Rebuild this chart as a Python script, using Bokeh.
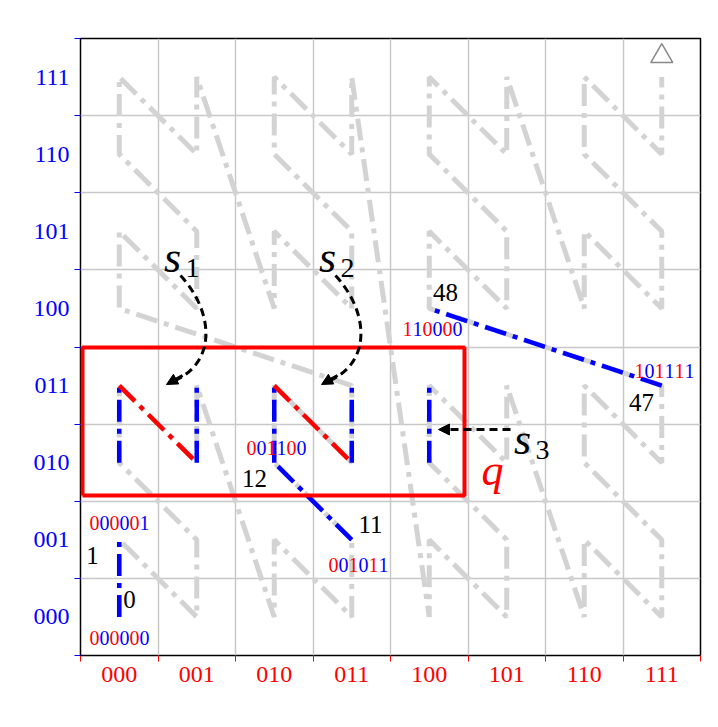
import math
from bokeh.plotting import figure
from bokeh.models import FixedTicker, Label, Arrow, NormalHead
from bokeh.embed import file_html
from bokeh.resources import INLINE

# curve definition and highlighted pieces
pattern = "XYXYXY"
codes = ["000", "001", "010", "011", "100", "101", "110", "111"]
blue_segments = [0, 4, 6, 11, 12, 14, 36, 47]
red_segments = [5, 13]
point_labels = [0, 1, 11, 12, 47, 48]

FONT = "Liberation Serif"
W, H = 702, 711
FL, FR, FT, FB = 80, 700, 38, 655  # frame in figure px

# decode the curve order from the bit pattern
xs, ys = [], []
for i in range(64):
    bits = format(i, "06b")
    xv = int("".join(b for b, c in zip(bits, pattern) if c == "X"), 2)
    yv = int("".join(b for b, c in zip(bits, pattern) if c == "Y"), 2)
    xs.append(xv)
    ys.append(yv)

p = figure(width=W, height=H, x_range=(-0.5, 7.5), y_range=(-0.5, 7.5),
           output_backend="svg", toolbar_location=None,
           min_border_left=FL, min_border_right=W - FR,
           min_border_top=FT, min_border_bottom=H - FB)
p.outline_line_color = "black"
p.outline_line_width = 1.5
p.background_fill_color = "white"

bounds = [k - 0.5 for k in range(9)]
for ax, col in ((p.xaxis, "red"), (p.yaxis, "blue")):
    ax.ticker = FixedTicker(ticks=list(range(8)), minor_ticks=bounds)
    ax.major_label_overrides = {k: codes[k] for k in range(8)}
    ax.major_label_text_font = FONT
    ax.major_label_text_font_size = "24px"
    ax.major_label_text_color = col
    ax.major_tick_line_color = None
    ax.minor_tick_line_color = col
    ax.minor_tick_out = 6
    ax.minor_tick_in = 0
    ax.axis_line_color = None
p.yaxis.major_label_orientation = "horizontal"
for g in (p.xgrid, p.ygrid):
    g.grid_line_color = None
    g.minor_grid_line_color = "#c8c8c8"
    g.minor_grid_line_width = 1.5
    g.ticker = FixedTicker(ticks=list(range(8)), minor_ticks=bounds)

DASH = "22 7 5 7"
p.line(xs, ys, line_color="#d3d3d3", line_width=5, line_dash=DASH)

for segs, col in ((blue_segments, "blue"), (red_segments, "red")):
    for s in segs:
        p.line(xs[s:s + 2], ys[s:s + 2], line_color=col, line_width=4.5, line_dash=DASH)

p.scatter([xs[-1]], [ys[-1] + 0.27], marker="triangle", size=22,
          fill_color="white", line_color="#888888", line_width=1.5)

def px(x, y):
    # page pixels -> data coords
    dx = (x - 8 - FL) / ((FR - FL) / 8) - 0.5
    dy = (FB - (y - 8)) / ((FB - FT) / 8) - 0.5
    return dx, dy

# query rectangle
rx0, ry0 = px(90, 503)
rx1, ry1 = px(472, 355)
p.line([rx0, rx1, rx1, rx0, rx0], [ry0, ry0, ry1, ry1, ry0], line_color="red", line_width=4)

def lab(text, x, y, size, color="black", style="normal", align="center", angle=0):
    dx, dy = px(x, y)
    p.add_layout(Label(x=dx, y=dy, text=text, text_font=FONT, text_font_size=size,
                       text_color=color, text_font_style=style, text_align=align,
                       text_baseline="middle", angle=angle))

# point numbers
num_pos = {0: (137, 607), 1: (100, 563), 11: (378, 532), 12: (262, 486), 47: (649, 410), 48: (453, 300)}
for k in point_labels:
    lab(str(k), *num_pos[k], "25px")

# bit strings coloured per pattern letter
bit_pos = {0: (127, 645), 1: (127, 530), 11: (366, 572), 12: (284, 455), 47: (672, 378), 48: (440, 336)}
for k in point_labels:
    bits = format(k, "06b")
    cx, cy = bit_pos[k]
    for j, (b, c) in enumerate(zip(bits, pattern)):
        lab(b, cx + (j - 2.5) * 10, cy, "20px", "red" if c == "X" else "blue")

# title
lab("BMC", 290, 18, "22px", align="left")
for j, c in enumerate(pattern):
    lab(c, 360 + j * 16, 18, "22px", "red" if c == "X" else "blue")

lab("x", 398, 688, "36px")
lab("y", 33, 352, "36px", angle=math.pi / 2)
lab("q", 500, 478, "44px", "red", "italic")
for name, (sx, sy) in (("1", (190, 265)), ("2", (345, 265)), ("3", (540, 447))):
    lab("s", sx - 10, sy, "44px", style="italic")
    lab(name, sx + 10, sy + 10, "28px")

# s1, s2 curved arrows
for off in (0, 155):
    a = px(188 + off, 283)
    b1 = px(222 + off, 320)
    b2 = px(225 + off, 372)
    e = px(178 + off, 390)
    p.bezier(x0=[a[0]], y0=[a[1]], x1=[e[0]], y1=[e[1]], cx0=[b1[0]], cy0=[b1[1]],
             cx1=[b2[0]], cy1=[b2[1]], line_color="black", line_width=3, line_dash="8 5")
    h0 = px(190 + off, 383)
    h1 = px(174 + off, 392)
    p.add_layout(Arrow(x_start=h0[0], y_start=h0[1], x_end=h1[0], y_end=h1[1],
                       line_color="black", line_width=3,
                       end=NormalHead(size=11, fill_color="black", line_color="black")))

s0 = px(518, 437)
s1 = px(446, 437)
p.add_layout(Arrow(x_start=s0[0], y_start=s0[1], x_end=s1[0], y_end=s1[1],
                   line_color="black", line_width=3, line_dash="8 5",
                   end=NormalHead(size=11, fill_color="black", line_color="black")))

open("out.html", "w").write(file_html(p, INLINE))
